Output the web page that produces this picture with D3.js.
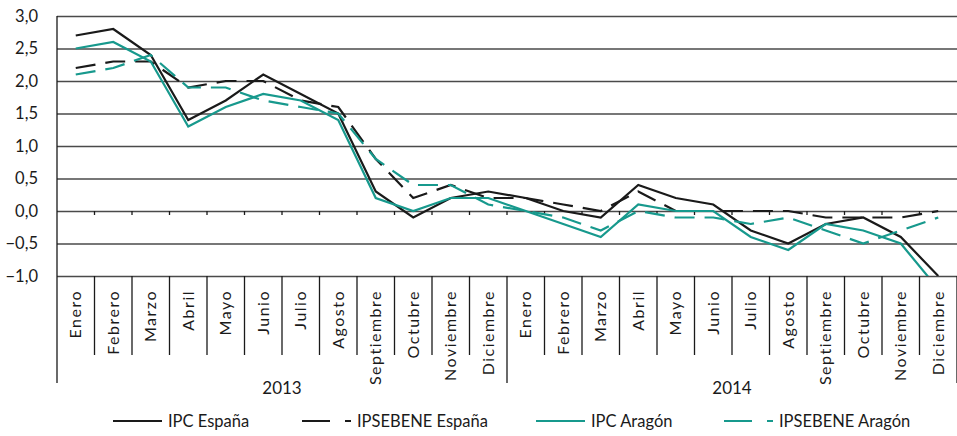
<!DOCTYPE html>
<html>
<head>
<meta charset="utf-8">
<script src="https://cdn.jsdelivr.net/npm/d3@7"></script>
<style>
  body { margin: 0; background: #fff; }
  text { font-family: Lato, "Open Sans", sans-serif; fill: #1a1a1a; }
</style>
</head>
<body>
<div id="chart"></div>
<script>
const months = ['Enero', 'Febrero', 'Marzo', 'Abril', 'Mayo', 'Junio', 'Julio', 'Agosto',
    'Septiembre', 'Octubre', 'Noviembre', 'Diciembre'];
const years = ['2013', '2014'];
const yTicks = [-1, -0.5, 0, 0.5, 1, 1.5, 2, 2.5, 3];
const ipcEspana = [2.7, 2.8, 2.4, 1.4, 1.7, 2.1, 1.8, 1.5, 0.3, -0.1, 0.2, 0.3,
    0.2, 0.0, -0.1, 0.4, 0.2, 0.1, -0.3, -0.5, -0.2, -0.1, -0.4, -1.0];
const ipsebeneEspana = [2.2, 2.3, 2.3, 1.9, 2.0, 2.0, 1.7, 1.6, 0.8, 0.2, 0.4, 0.2,
    0.2, 0.1, 0.0, 0.3, 0.0, 0.0, 0.0, 0.0, -0.1, -0.1, -0.1, 0.0];
const ipcAragon = [2.5, 2.6, 2.3, 1.3, 1.6, 1.8, 1.7, 1.4, 0.2, 0.0, 0.2, 0.2,
    0.0, -0.2, -0.4, 0.1, 0.0, 0.0, -0.4, -0.6, -0.2, -0.3, -0.5, -1.2];
const ipsebeneAragon = [2.1, 2.2, 2.4, 1.9, 1.9, 1.7, 1.6, 1.5, 0.8, 0.4, 0.4, 0.1,
    0.0, -0.1, -0.3, 0.0, -0.1, -0.1, -0.2, -0.1, -0.3, -0.5, -0.3, -0.1];

const BLACK = '#1a1a1a';
const TEAL = '#17998d';
const series = [
    { name: 'IPC España', values: ipcEspana, color: BLACK, dash: null },
    { name: 'IPSEBENE España', values: ipsebeneEspana, color: BLACK, dash: '20,10' },
    { name: 'IPC Aragón', values: ipcAragon, color: TEAL, dash: null },
    { name: 'IPSEBENE Aragón', values: ipsebeneAragon, color: TEAL, dash: '20,10' },
];

const W = 957, H = 436;
const plot = { left: 57, right: 957, top: 16, bottom: 276 };

// one key per month of the two years
const keys = [];
years.forEach((yr) => months.forEach((m) => keys.push(`${m}-${yr}`)));

const svg = d3.select('#chart').append('svg')
    .attr('width', W).attr('height', H);

const x = d3.scaleBand().domain(keys).range([plot.left, plot.right]);
const y = d3.scaleLinear().domain([-1, 3]).range([plot.bottom, plot.top]);

// gridlines
svg.append('g')
    .attr('transform', `translate(${plot.left},0)`)
    .call(d3.axisLeft(y).tickValues(yTicks).tickSize(-(plot.right - plot.left)).tickFormat(''))
    .call((g) => g.select('.domain').remove())
    .call((g) => g.selectAll('line').attr('stroke', '#4a4a4a').attr('stroke-width', 1.3));

// y labels
svg.append('g')
    .attr('transform', `translate(${plot.left},0)`)
    .call(d3.axisLeft(y).tickValues(yTicks).tickSize(0).tickPadding(19)
        .tickFormat((d) => d3.format('.1f')(d).replace('.', ',')))
    .call((g) => g.select('.domain').remove())
    .call((g) => g.selectAll('text').attr('font-size', 16.5).attr('fill', BLACK)
        .style('font-family', 'Lato, sans-serif'));

// y axis line
svg.append('line')
    .attr('x1', plot.left).attr('x2', plot.left).attr('y1', plot.top).attr('y2', 383)
    .attr('stroke', BLACK).attr('stroke-width', 1.3);

// category ticks on the zero line
const bounds = keys.map((k) => x(k)).concat([plot.right]);
svg.append('g').selectAll('line')
    .data(bounds.slice(1, -1))
    .join('line')
    .attr('x1', (d) => d).attr('x2', (d) => d)
    .attr('y1', y(0)).attr('y2', y(0) + 4)
    .attr('stroke', BLACK).attr('stroke-width', 1.3);

// separators below the chart
svg.append('g').selectAll('line')
    .data(bounds.slice(1))
    .join('line')
    .attr('x1', (d) => d).attr('x2', (d) => d)
    .attr('y1', plot.bottom)
    .attr('y2', (d, i) => ((i + 1) % 12 === 0 ? 383 : 355))
    .attr('stroke', BLACK).attr('stroke-width', 1.3);

// month labels
svg.append('g').selectAll('text')
    .data(keys)
    .join('text')
    .attr('transform', (d) => `translate(${x(d) + x.bandwidth() / 2 + 5.5},290) rotate(-90)`)
    .attr('text-anchor', 'end')
    .attr('font-size', 16)
    .attr('letter-spacing', 1.5)
    .text((d) => d.split('-')[0]);

// year labels
svg.append('g').selectAll('text')
    .data(years)
    .join('text')
    .attr('x', (d, i) => (x(keys[i * 12]) + x(keys[i * 12 + 11]) + x.bandwidth()) / 2)
    .attr('y', 394)
    .attr('text-anchor', 'middle')
    .attr('font-size', 17)
    .text((d) => d);

// lines
svg.append('clipPath').attr('id', 'plotClip')
    .append('rect')
    .attr('x', plot.left).attr('y', plot.top - 2)
    .attr('width', plot.right - plot.left).attr('height', plot.bottom - plot.top + 2);

const line = d3.line()
    .x((d, i) => x(keys[i]) + x.bandwidth() / 2)
    .y((d) => y(d));

svg.append('g').attr('clip-path', 'url(#plotClip)')
    .selectAll('path')
    .data(series)
    .join('path')
    .attr('d', (d) => line(d.values))
    .attr('fill', 'none')
    .attr('stroke', (d) => d.color)
    .attr('stroke-width', 2.2)
    .attr('stroke-dasharray', (d) => d.dash);

// legend
const legendX = [113, 302, 536, 724];
const legend = svg.append('g').selectAll('g')
    .data(series)
    .join('g')
    .attr('transform', (d, i) => `translate(${legendX[i]},421)`);
legend.append('line')
    .attr('x1', 0).attr('x2', 49).attr('y1', 0).attr('y2', 0)
    .attr('stroke', (d) => d.color)
    .attr('stroke-width', 2.2)
    .attr('stroke-dasharray', (d) => (d.dash ? '28,15' : null));
legend.append('text')
    .attr('x', 55).attr('y', 0).attr('dy', '0.35em')
    .attr('font-size', 16.5)
    .text((d) => d.name);
</script>
</body>
</html>
